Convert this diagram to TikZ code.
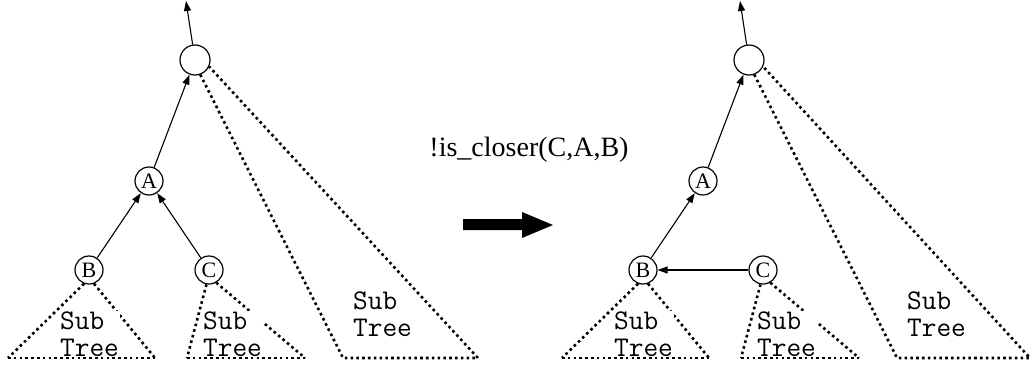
\documentclass[tikz,border=0pt]{standalone}
\usepackage{fontspec}
\setmainfont{Liberation Serif}
\usetikzlibrary{arrows.meta}
\tikzset{
  treenode/.style={circle,draw,line width=1.2pt,minimum size=28pt,inner sep=0pt,font=\fontsize{22}{22}\selectfont},
  rootnode/.style={circle,draw,line width=1.2pt,minimum size=30pt,inner sep=0pt},
  edge/.style={line width=1.1pt,-{Triangle[length=10pt,width=7pt]}},
  dots/.style={line width=2.6pt,dash pattern=on 2.6pt off 3.2pt},
  subtext/.style={fill=white,inner sep=1pt,align=left,font=\ttfamily\fontsize{28.5}{27}\selectfont},
}
\begin{document}
\begin{tikzpicture}[x=1pt,y=-1pt]
\useasboundingbox (0,0) rectangle (1032,372);
% ---------- left tree ----------
\node[rootnode] (R1) at (195,60) {};
\coordinate (T1) at (186,1);
\node[treenode] (A1) at (149,181) {A};
\node[treenode] (B1) at (89,270) {B};
\node[treenode] (C1) at (209,270) {C};
\coordinate (b1l) at (8,358);  \coordinate (b1r) at (155,358);
\coordinate (c1l) at (187,358); \coordinate (c1r) at (305,358);
\coordinate (r1l) at (343,358); \coordinate (r1r) at (478,358);
\draw[edge] (R1) -- (T1);
\draw[edge] (A1) -- (R1);
\draw[edge] (B1) -- (A1);
\draw[edge] (C1) -- (A1);
\draw[dots] (B1.-110) -- (b1l);
\draw[dots] (B1.-70) -- (b1r);
\draw[dots] (C1.-100) -- (c1l);
\draw[dots] (C1.-60) -- (c1r);
\draw[dots] (R1.-70) -- (r1l) -- (r1r) -- (R1.-25);
\node[subtext,anchor=west] (sb1) at (59,334) {Sub\\Tree};
\node[subtext,anchor=west] (sc1) at (202,334) {Sub\\Tree};
\node[subtext,anchor=west] (sr1) at (352,314) {Sub\\Tree};
\draw[dots] (b1l) -- (b1r);
\draw[dots] (c1l) -- (c1r);
% ---------- middle ----------
\node[font=\fontsize{28}{28}\selectfont,anchor=base,inner sep=0pt] (L) at (529,156) {!is\_closer(C,A,B)};
\fill (463,219) -- (522,219) -- (522,212) -- (553,225) -- (522,238) -- (522,230) -- (463,230) -- cycle;
% ---------- right tree ----------
\node[rootnode] (R2) at (749,60) {};
\coordinate (T2) at (740,1);
\node[treenode] (A2) at (703,181) {A};
\node[treenode] (B2) at (643,270) {B};
\node[treenode] (C2) at (763,270) {C};
\coordinate (b2l) at (562,358);  \coordinate (b2r) at (709,358);
\coordinate (c2l) at (741,358); \coordinate (c2r) at (859,358);
\coordinate (r2l) at (897,358); \coordinate (r2r) at (1030,358);
\draw[edge] (R2) -- (T2);
\draw[edge] (A2) -- (R2);
\draw[edge] (B2) -- (A2);
\draw[edge] (C2) -- (B2);
\draw[dots] (B2.-110) -- (b2l);
\draw[dots] (B2.-70) -- (b2r);
\draw[dots] (C2.-100) -- (c2l);
\draw[dots] (C2.-60) -- (c2r);
\draw[dots] (R2.-70) -- (r2l) -- (r2r) -- (R2.-25);
\node[subtext,anchor=west] (sb2) at (613,334) {Sub\\Tree};
\node[subtext,anchor=west] (sc2) at (756,334) {Sub\\Tree};
\node[subtext,anchor=west] (sr2) at (906,314) {Sub\\Tree};
\draw[dots] (b2l) -- (b2r);
\draw[dots] (c2l) -- (c2r);
\end{tikzpicture}
\end{document}
